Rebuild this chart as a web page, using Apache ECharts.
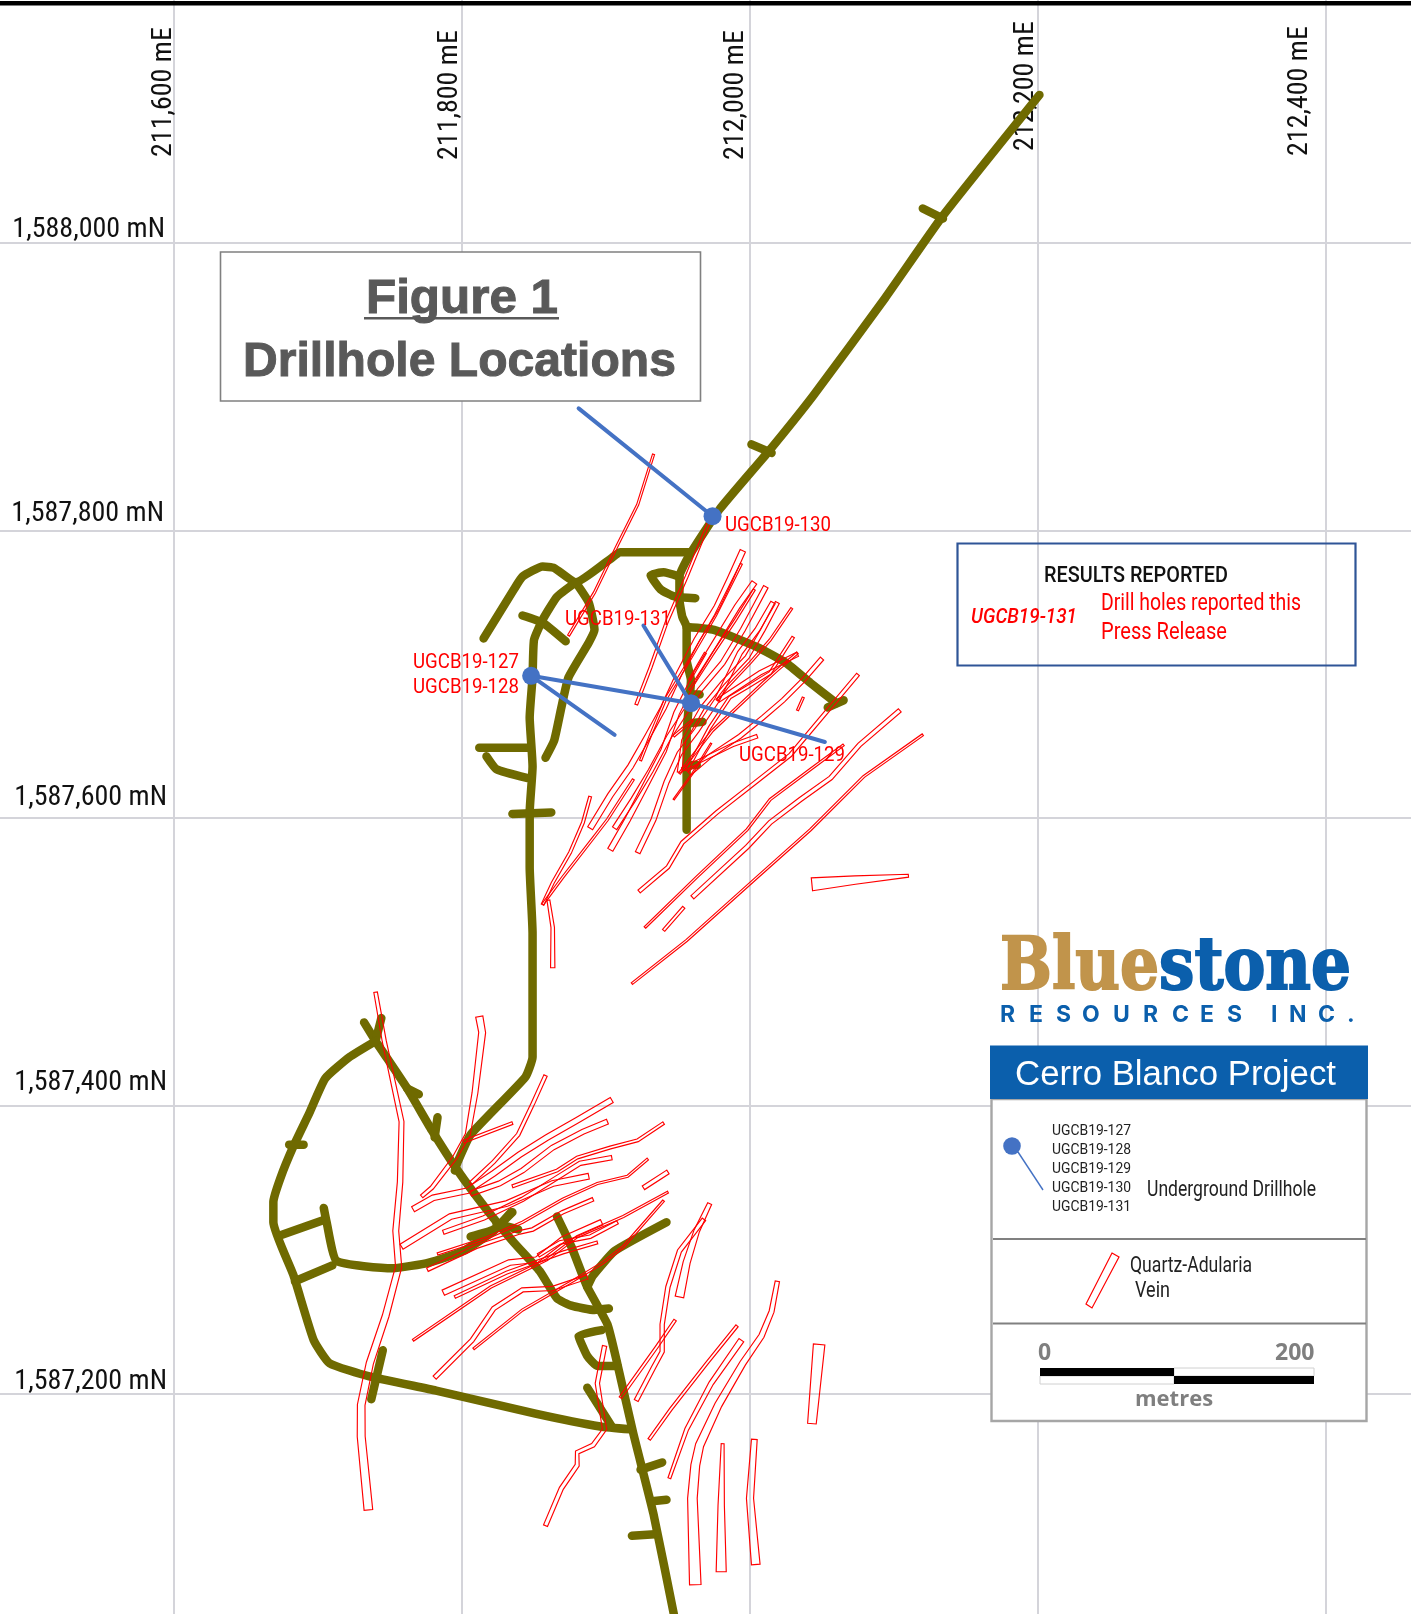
<!DOCTYPE html>
<html><head><meta charset="utf-8"><title>Cerro Blanco Project - Figure 1</title>
<style>html,body{margin:0;padding:0;background:#fff}#c{width:1411px;height:1614px}</style>
<script src="https://cdn.jsdelivr.net/npm/echarts@6/dist/echarts.min.js"></script></head>
<body><div id="c"></div>
<script>
// Map axes (metres)
const eastTicks = [211400,211600,211800,212000,212200,212400,212600];
const eastTickLabels = ['', '211,600 mE','211,800 mE','212,000 mE','212,200 mE','212,400 mE',''];
const northTicks = [1587000,1587200,1587400,1587600,1587800,1588000,1588200];
const northTickLabels = ['', '1,587,200 mN','1,587,400 mN','1,587,600 mN','1,587,800 mN','1,588,000 mN',''];

// Underground workings: polylines of [mE, mN]
const tunnelsNorth = [
 [[212201,1588103],[212134,1588019],[212094,1587962],[212044,1587894],[212012,1587854],[211979,1587815],[211958,1587783],[211951,1587768],[211951,1587752],[211953,1587740],[211956,1587733],[211956,1587710],[211959,1587696],[211956,1587659],[211956,1587592]],
 [[212120,1588024],[212134,1588017]],
 [[212001,1587860],[212015,1587854]],
 [[211958,1587785],[211910,1587785],[211904,1587781],[211879,1587764],[211864,1587774],[211856,1587775],[211842,1587768],[211836,1587759],[211815,1587725]],
 [[211879,1587764],[211866,1587754],[211856,1587738],[211850,1587724],[211849,1587698],[211847,1587670],[211849,1587636],[211847,1587604],[211847,1587566],[211849,1587520],[211849,1587434],[211844,1587420],[211806,1587380],[211797,1587361],[211795,1587355]],
 [[211879,1587764],[211888,1587750],[211892,1587731],[211888,1587722],[211874,1587698],[211869,1587677],[211864,1587654],[211858,1587642]],
 [[211842,1587741],[211856,1587736],[211872,1587723]],
 [[211812,1587649],[211847,1587649]],
 [[211817,1587643],[211824,1587634],[211845,1587628]],
 [[211835,1587603],[211862,1587604]],
 [[211951,1587768],[211940,1587771],[211931,1587769],[211938,1587759],[211948,1587754],[211962,1587753]],
 [[211956,1587733],[211975,1587731],[212005,1587719],[212025,1587708],[212042,1587694],[212060,1587680]],
 [[212054,1587677],[212065,1587682]],
 [[211958,1587666],[211967,1587667]],
 [[211958,1587637],[211963,1587637]],
 [[211958,1587686],[211965,1587686]]
];
const tunnelsSouth = [
 [[211732,1587458],[211740,1587445],[211762,1587412],[211779,1587383],[211797,1587355],[211817,1587328],[211836,1587305],[211854,1587285],[211866,1587266],[211876,1587261],[211892,1587258],[211902,1587259]],
 [[211744,1587461],[211740,1587445]],
 [[211740,1587445],[211722,1587434],[211705,1587419],[211694,1587395],[211683,1587372],[211674,1587350],[211669,1587333],[211669,1587319],[211683,1587282],[211697,1587237],[211708,1587221],[211735,1587212],[211782,1587202],[211851,1587186],[211896,1587177],[211917,1587175]],
 [[211674,1587310],[211705,1587321]],
 [[211684,1587278],[211710,1587289]],
 [[211704,1587329],[211706,1587319],[211713,1587292],[211752,1587287],[211777,1587291],[211801,1587299],[211822,1587313],[211834,1587326]],
 [[211806,1587309],[211822,1587314],[211835,1587326]],
 [[211824,1587318],[211839,1587314]],
 [[211762,1587412],[211770,1587408]],
 [[211783,1587392],[211781,1587378]],
 [[211680,1587373],[211690,1587373]],
 [[211745,1587230],[211737,1587196]],
 [[211866,1587323],[211876,1587302],[211887,1587274],[211901,1587248],[211908,1587220],[211919,1587172],[211933,1587116],[211948,1587042]],
 [[211942,1587319],[211906,1587299],[211891,1587282],[211887,1587274]],
 [[211897,1587244],[211881,1587240],[211887,1587226],[211894,1587219],[211908,1587219]],
 [[211887,1587204],[211904,1587177]],
 [[211924,1587147],[211939,1587152]],
 [[211932,1587125],[211942,1587126]],
 [[211918,1587101],[211934,1587102]]
];

// Quartz-adularia veins: centre lines of [mE, mN]
const veinLines = [
 [[211933,1587853],[211922,1587818],[211908,1587790],[211892,1587757],[211874,1587727]],
 [[211972,1587807],[211956,1587768],[211942,1587736],[211931,1587705],[211921,1587679]],
 [[211889,1587593],[211903,1587616],[211917,1587636],[211929,1587657],[211940,1587677],[211951,1587701],[211963,1587724],[211977,1587747],[211986,1587766],[211995,1587786]],
 [[211903,1587578],[211915,1587599],[211926,1587620],[211940,1587647],[211949,1587673],[211963,1587701],[211977,1587724],[211991,1587747],[212003,1587764]],
 [[211906,1587593],[211919,1587613],[211931,1587633],[211944,1587657],[211965,1587689],[211981,1587708],[211995,1587731],[212011,1587761]],
 [[211922,1587576],[211933,1587599],[211942,1587625],[211951,1587645],[211963,1587661],[211977,1587682],[211993,1587715],[212005,1587731],[212016,1587750]],
 [[212019,1587750],[212009,1587731],[211998,1587712],[211981,1587694],[211967,1587677],[211954,1587654],[211951,1587632]],
 [[212029,1587746],[212014,1587724],[212000,1587708],[211984,1587691],[211977,1587682]],
 [[212030,1587726],[212021,1587712],[212014,1587701],[211998,1587691],[211986,1587684],[211972,1587663],[211956,1587633]],
 [[212033,1587715],[212019,1587703],[212009,1587694],[211991,1587677],[211974,1587661],[211960,1587643],[211951,1587631]],
 [[212050,1587711],[212037,1587696],[212023,1587682],[212009,1587670],[211993,1587657],[211972,1587643],[211958,1587631]],
 [[212037,1587684],[212033,1587675]],
 [[211923,1587549],[211943,1587566],[211953,1587583],[211977,1587604],[212000,1587622],[212028,1587644],[212054,1587675],[212075,1587700]],
 [[211927,1587524],[211963,1587559],[211998,1587592],[212014,1587613],[212042,1587634],[212065,1587651]],
 [[211960,1587545],[211998,1587580],[212014,1587597],[212035,1587613],[212056,1587628],[212076,1587651],[212104,1587675]],
 [[211918,1587485],[211956,1587515],[212005,1587559],[212042,1587592],[212079,1587629],[212120,1587658]],
 [[211940,1587522],[211954,1587538]],
 [[212043,1587554],[212073,1587557],[212110,1587560]],
 [[211889,1587615],[211884,1587597],[211875,1587576],[211863,1587555],[211856,1587540]],
 [[211856,1587540],[211870,1587559],[211891,1587586],[211901,1587599],[211919,1587627]],
 [[211860,1587543],[211863,1587524],[211863,1587496]],
 [[211994,1587777],[211976,1587741],[211958,1587710],[211941,1587682],[211931,1587658],[211924,1587640]],
 [[211947,1587613],[211960,1587631],[211973,1587652]],
 [[211947,1587657],[211960,1587668]],
 [[211969,1587715],[211958,1587696]],
 [[211740,1587479],[211746,1587445],[211752,1587417],[211758,1587389],[211757,1587347],[211754,1587313],[211756,1587288],[211747,1587254],[211736,1587221],[211730,1587192],[211730,1587170],[211735,1587119]],
 [[211812,1587462],[211814,1587451],[211809,1587409],[211804,1587380],[211795,1587364],[211779,1587343],[211772,1587337]],
 [[211835,1587388],[211801,1587375]],
 [[211858,1587421],[211849,1587401],[211839,1587380],[211822,1587361],[211806,1587346]],
 [[211904,1587404],[211880,1587390],[211859,1587378],[211840,1587366],[211822,1587353],[211804,1587341],[211780,1587336],[211766,1587328]],
 [[211901,1587389],[211884,1587382],[211863,1587371],[211842,1587355],[211826,1587346],[211806,1587339]],
 [[211940,1587388],[211922,1587376],[211903,1587371],[211880,1587364],[211866,1587355],[211835,1587344]],
 [[211904,1587364],[211882,1587360],[211866,1587350],[211842,1587335],[211815,1587322],[211787,1587312]],
 [[211888,1587351],[211863,1587346],[211831,1587332],[211792,1587323],[211758,1587302]],
 [[211929,1587363],[211915,1587351],[211894,1587346],[211870,1587335],[211842,1587319],[211817,1587308],[211783,1587297]],
 [[211891,1587335],[211870,1587326],[211849,1587314],[211840,1587312],[211810,1587302],[211776,1587286]],
 [[211943,1587354],[211926,1587343]],
 [[211943,1587340],[211912,1587323],[211880,1587309],[211859,1587293],[211820,1587274],[211766,1587237]],
 [[211940,1587334],[211912,1587302],[211898,1587291],[211875,1587277],[211842,1587258],[211808,1587231]],
 [[211908,1587319],[211889,1587309],[211868,1587305],[211853,1587296]],
 [[211897,1587319],[211870,1587307],[211852,1587293],[211833,1587291],[211787,1587270]],
 [[211894,1587305],[211870,1587298],[211831,1587284],[211795,1587267]],
 [[211887,1587281],[211863,1587273],[211842,1587272],[211822,1587259],[211807,1587237],[211781,1587211]],
 [[211972,1587332],[211963,1587313],[211956,1587291],[211951,1587267]],
 [[211968,1587321],[211951,1587299],[211943,1587274],[211939,1587248],[211939,1587229],[211933,1587218],[211921,1587195]],
 [[211948,1587251],[211935,1587232],[211910,1587197]],
 [[212019,1587278],[212015,1587257],[212008,1587240],[211995,1587221],[211978,1587192],[211965,1587164],[211962,1587150],[211960,1587127],[211962,1587067]],
 [[211991,1587247],[211970,1587221],[211945,1587189],[211930,1587168]],
 [[211994,1587237],[211973,1587207],[211956,1587175],[211944,1587141]],
 [[211981,1587165],[211980,1587122],[211980,1587076]],
 [[212003,1587168],[212000,1587127],[212004,1587081]],
 [[212048,1587234],[212043,1587179]],
 [[211899,1587233],[211894,1587207],[211899,1587175],[211891,1587164],[211880,1587159],[211880,1587150],[211869,1587134],[211858,1587108]],
 [[211958,1587689],[211974,1587714],[211990,1587738],[212003,1587759]],
 [[211978,1587682],[212007,1587701],[212033,1587714]],
 [[211953,1587634],[211988,1587651],[212005,1587657]]
];
// Vein thickness at each end, metres
const veinThickness = [
 [1.5,1.5],[2,2],[4,4],[4,4],[3.5,3.5],[3.5,3.5],[3,3],[1.5,1.5],[2,2],[1.5,1.5],[3,3],[1.5,1.5],[2.5,2.5],[1.5,1.5],[3,3],[1.5,1.5],[2,2],[9,2],[2,2],[1.5,1.5],[2,3],[1.5,1.5],[1,1],[1.5,1.5],[1.5,1.5],
 [2.5,6],[5,2.5],[2,2],[2.5,2.5],[4,4],[3.5,3.5],[2,2],[3,3],[4,4],[1.5,1.5],[2.5,2.5],[3,3],[1.5,1.5],[1.5,1.5],[2.5,2.5],[4,4],[2,2],[3,3],[3,6],[3,3],[2,2],[3,8],[2,2],[4,2],[2,7],[4,6],[8,6],[3,3],
 [1.5,1.5],[3,3],[2.5,2.5]
];

// Drill holes
const holeCollars = [[211974,1587810],[211848,1587699],[211959,1587680]];
const holeTraces = [
 [[211974,1587810],[211881,1587885]],
 [[211848,1587699],[211959,1587680]],
 [[211848,1587699],[211906,1587658]],
 [[211959,1587680],[212052,1587653]],
 [[211959,1587680],[211926,1587734]]
];
const holeLabels = ['UGCB19-127','UGCB19-128','UGCB19-129','UGCB19-130','UGCB19-131'];
const logoLetters = ['R','E','S','O','U','R','C','E','S','I','N','C','.'];

const FR='Roboto', FC='"Roboto Condensed"', FS='"Liberation Sans"', FO='"Open Sans"', FD='"DejaVu Serif"', FI='Inter';
const OLIVE='#6f6a00', BLUE='#4472c4', RED='#ff0000', NAVY='#0b5fac';

const meas=document.createElement('canvas').getContext('2d');
// Text squeezed to a target width so condensed artwork fonts keep their proportions.
function txt(text,x,y,font,fill,width,align,extra){
  const o={type:'text',x:x,y:y+2,z:60,silent:true,
    style:Object.assign({text:text,font:font,fill:fill,align:align||'left',verticalAlign:'middle',textAlign:align||'left',textVerticalAlign:'middle'},(extra||{}))};
  if(width){meas.font=font;o.scaleX=width/meas.measureText(text).width;}
  return o;
}
function rect(x,y,w,h,fill,stroke,lw,z){
  return {type:'rect',z:z||50,silent:true,shape:{x:x,y:y,width:w,height:h},style:{fill:fill,stroke:stroke||null,lineWidth:lw||0}};
}
function seg(x1,y1,x2,y2,c,lw,z){
  return {type:'line',z:z||55,silent:true,shape:{x1:x1,y1:y1,x2:x2,y2:y2},style:{stroke:c,lineWidth:lw}};
}
const logoX=[1000,1029,1056,1082,1113,1143,1172,1200,1227,1271,1289,1318,1347];
const graphics=[
  rect(0,1,1411,4.5,'#000',null,0,70),
  // title
  rect(220.5,252,480,149,'#fff','#808080',1.6,50),
  txt('Figure 1',366,297,'bold 49px '+FS,'#595959',192,'left',{stroke:'#595959',lineWidth:1}),
  rect(364,317,195,2.4,'#595959',null,0,60),
  txt('Drillhole Locations',243,360,'bold 49px '+FS,'#595959',433,'left',{stroke:'#595959',lineWidth:1}),
  // results box
  rect(957.5,543.5,398,122,'rgba(0,0,0,0)','#2f5597',2.2,50),
  txt('RESULTS REPORTED',1044,574,'500 22.5px '+FR,'#111',184),
  txt('UGCB19-131',971,616,'italic 500 21px '+FR,RED,106),
  txt('Drill holes reported this',1101,602,'23.5px '+FR,RED,200),
  txt('Press Release',1101,631,'23.5px '+FR,RED,126),
  // hole labels
  txt(holeLabels[0],413,660.5,'21px '+FR,RED,106),
  txt(holeLabels[1],413,685.5,'21px '+FR,RED,106),
  txt(holeLabels[2],739,753.5,'21px '+FR,RED,106),
  txt(holeLabels[3],725,523.5,'21px '+FR,RED,106),
  txt(holeLabels[4],565,617.5,'21px '+FR,RED,106),
  // logo
  txt('Blue',1000,968,'bold 72px '+FD,'#c1944b',159,'left',{stroke:'#c1944b',lineWidth:2}),
  txt('stone',1159,968,'bold 72px '+FD,NAVY,192,'left',{stroke:NAVY,lineWidth:2}),
  // legend
  rect(991.5,1099,375,322,'#fff','#a6a6a6',2.4,50),
  rect(990,1045.5,378,53.5,NAVY,null,0,52),
  txt('Cerro Blanco Project',1015,1073,'34.8px '+FS,'#fff',321),
  seg(993,1239,1366,1239,'#808080',1.8),
  seg(993,1323.5,1366,1323.5,'#808080',1.8),
  {type:'circle',z:56,silent:true,shape:{cx:1012,cy:1146,r:8.8},style:{fill:BLUE}},
  seg(1018,1152,1043,1190,BLUE,1.4),
  txt(holeLabels[0],1052,1129,'15.5px '+FR,'#222',79),
  txt(holeLabels[1],1052,1148,'15.5px '+FR,'#222',79),
  txt(holeLabels[2],1052,1167,'15.5px '+FR,'#222',79),
  txt(holeLabels[3],1052,1186,'15.5px '+FR,'#222',79),
  txt(holeLabels[4],1052,1205,'15.5px '+FR,'#222',79),
  txt('Underground Drillhole',1147,1189,'21.5px '+FR,'#222',169),
  {type:'polygon',z:56,silent:true,shape:{points:[[1112,1253],[1119,1257],[1092,1308],[1086,1304]]},style:{fill:'none',stroke:RED,lineWidth:1.2}},
  txt('Quartz-Adularia',1130,1265,'21.5px '+FR,'#222',122),
  txt('Vein',1135,1290,'21.5px '+FR,'#222',35),
  txt('0',1038,1351,'bold 23px '+FO,'#7f7f7f'),
  txt('200',1275,1351,'bold 23px '+FO,'#7f7f7f'),
  txt('metres',1135,1398,'bold 22px '+FO,'#7f7f7f'),
  rect(1040,1376,134,8,'#fff','#d0d0d0',1,55),
  rect(1174,1368,140,8,'#fff','#d0d0d0',1,55),
  rect(1040,1368,134,8,'#000',null,0,56),
  rect(1174,1376,140,8,'#000',null,0,56)
];
logoLetters.forEach((c,i)=>graphics.push(txt(c,logoX[i],1013,'bold 23px '+FI,NAVY)));

// Per-tick nudges so each label sits where the map placed it
const eastRich={},northRich={};
const eastPad=[0,[3,21],[0,25],[0,28],[9,24],[4,52],0];
eastTicks.forEach((t,i)=>{ const p=eastPad[i]||[0,0];
  eastRich['t'+i]={fontFamily:'Roboto Condensed',fontSize:28,color:'#111',padding:[0,0,p[1],p[0]]};});
const northPad=[0,[22,7],[46,7],[40,7],[33,10],[26,9],0];
northTicks.forEach((t,i)=>{ const p=northPad[i]||[0,0];
  northRich['t'+i]={fontFamily:'Roboto Condensed',fontSize:28,color:'#111',padding:[0,p[1],p[0],0]};});

function veinShape(pts,w0,w1,api){
  const px=pts.map(p=>api.coord(p));
  const n=px.length, seglen=[0];
  for(let i=1;i<n;i++) seglen.push(seglen[i-1]+Math.hypot(px[i][0]-px[i-1][0],px[i][1]-px[i-1][1]));
  const L=[],R=[],scale=api.size([1,0])[0];
  for(let i=0;i<n;i++){
    const a=px[Math.max(i-1,0)],b=px[Math.min(i+1,n-1)];
    const dx=b[0]-a[0],dy=b[1]-a[1],d=Math.hypot(dx,dy)||1;
    const t=seglen[i]/seglen[n-1], hw=(w0+(w1-w0)*t)*scale/2;
    L.push([px[i][0]-dy/d*hw,px[i][1]+dx/d*hw]);
    R.push([px[i][0]+dy/d*hw,px[i][1]-dx/d*hw]);
  }
  return L.concat(R.reverse());
}

const lineSeries=(name,lines,color,width,z,smooth)=>lines.map(l=>({name:name,type:'line',data:l,showSymbol:false,silent:true,z:z,clip:false,animation:false,smooth:smooth||false,
   lineStyle:{color:color,width:width,cap:'round',join:'round'},itemStyle:{color:color}}));

const option={
  animation:false,backgroundColor:'#fff',
  grid:{left:-114,top:-44.6,width:1728,height:1725.6,containLabel:false,outerBoundsMode:'none'},
  xAxis:{type:'value',min:eastTicks[0],max:eastTicks[eastTicks.length-1],interval:200,position:'top',offset:-204.6,
    axisLine:{show:false},axisTick:{show:false},
    splitLine:{show:true,lineStyle:{color:'#d4d4da',width:2}},
    axisLabel:{rotate:-90,margin:0,hideOverlap:false,rich:eastRich,
      formatter:v=>{const i=eastTicks.indexOf(v);return eastTickLabels[i]?`{t${i}|${eastTickLabels[i]}}`:'';}}},
  yAxis:{type:'value',min:northTicks[0],max:northTicks[northTicks.length-1],interval:200,position:'left',offset:-288,
    axisLine:{show:false},axisTick:{show:false},
    splitLine:{show:true,lineStyle:{color:'#d4d4da',width:2}},
    axisLabel:{margin:0,hideOverlap:false,rich:northRich,
      formatter:v=>{const i=northTicks.indexOf(v);return northTickLabels[i]?`{t${i}|${northTickLabels[i]}}`:'';}}},
  graphic:{elements:graphics},
  series:[
    ...lineSeries('Workings',tunnelsNorth.concat(tunnelsSouth),OLIVE,8.5,3,0.15),
    {name:'Quartz-Adularia Vein',type:'custom',coordinateSystem:'cartesian2d',z:4,clip:false,silent:true,
      data:veinLines.map((l,i)=>[l[0][0],l[0][1],i]),encode:{x:0,y:1},
      renderItem:(params,api)=>{const i=api.value(2),w=veinThickness[i]||[2,2];
        return {type:'polygon',shape:{points:veinShape(veinLines[i],w[0],w[1],api)},style:{fill:'none',stroke:RED,lineWidth:1.15}};}},
    ...lineSeries('Underground Drillhole',holeTraces,BLUE,4,5),
    {name:'Collars',type:'scatter',data:holeCollars,symbol:'circle',symbolSize:18,itemStyle:{color:BLUE,opacity:1},z:6,silent:true}
  ]
};
const chart=echarts.init(document.getElementById('c'),null,{renderer:'canvas',width:1411,height:1614});
chart.setOption(option);
</script></body></html>
